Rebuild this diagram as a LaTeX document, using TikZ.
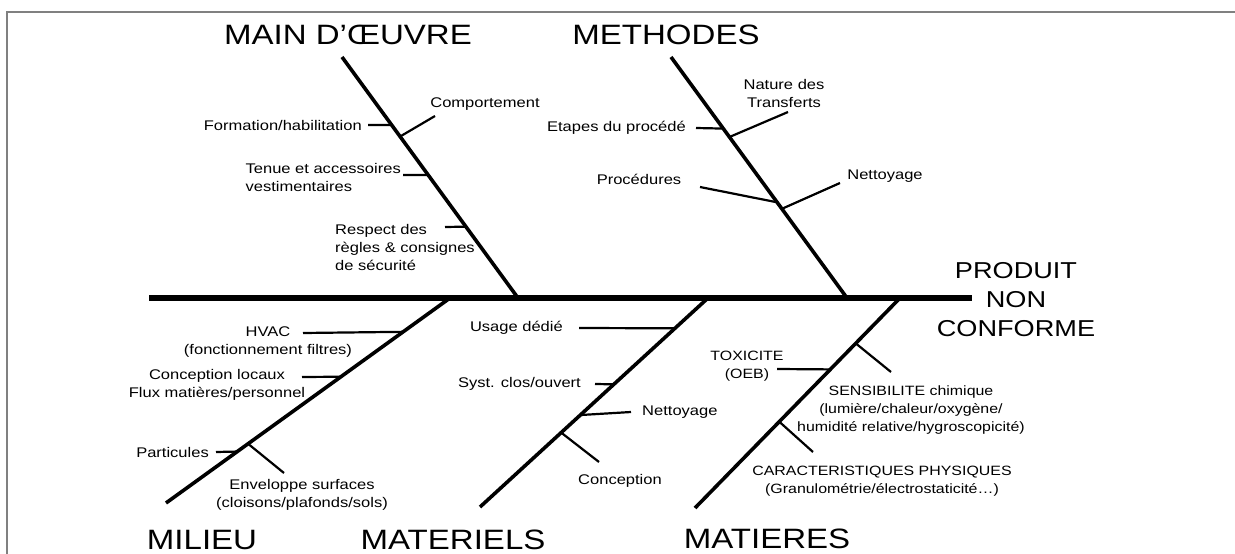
\documentclass[tikz,border=0pt]{standalone}
\usepackage{fontspec}
\setmainfont[FakeStretch=1.18]{Liberation Sans}
\usetikzlibrary{positioning}

\begin{document}
\begin{tikzpicture}[x=1pt, y=-1pt,
  spine/.style={line width=5.8pt},
  bone/.style={line width=3.6pt},
  twig/.style={line width=2.2pt},
  cause/.style={font=\fontsize{28}{30}\selectfont, inner sep=0pt},
  item/.style={font=\fontsize{14}{18}\selectfont, inner sep=0pt, align=center},
  small item/.style={item, font=\fontsize{13.5}{18}\selectfont}]

  \useasboundingbox (0,0) rectangle (1235,554);
  \draw[gray, line width=1.2pt] (7,554) -- (7,12) -- (1235,12);

  % Define nodes
  \node[cause] (mo) at (348,35) {MAIN D’ŒUVRE};
  \node[cause] (me) at (666,35) {METHODES};
  \node[cause] (mi) at (202,540) {MILIEU};
  \node[cause] (ma) at (453,540) {MATERIELS};
  \node[cause] (mt) at (767,539) {MATIERES};
  \node[cause, align=center, font=\fontsize{23}{29}\selectfont] (effect) at (1016,300) {PRODUIT\\NON\\CONFORME};

  \node[item, anchor=east] (form) at (362,125) {Formation/habilitation};
  \node[item] (comp) at (485,104) {Comportement};
  \node[item, anchor=east, align=left] (tenue) at (401,177) {Tenue et accessoires\\vestimentaires};
  \node[item, anchor=west, align=left] (resp) at (335,247) {Respect des\\règles \& consignes\\de sécurité};

  \node[item, anchor=east] (etap) at (686,128) {Etapes du procédé};
  \node[item] (natu) at (784,93) {Nature des\\Transferts};
  \node[item] (proc) at (639,179) {Procédures};
  \node[item] (nett1) at (885,176) {Nettoyage};

  \node[item] (hvac) at (268,342) {HVAC\\(fonctionnement filtres)};
  \node[item] (loc) at (217,385) {Conception locaux\\Flux matières/personnel};
  \node[item, anchor=east] (part) at (209,452) {Particules};
  \node[item] (env) at (302,495) {Enveloppe surfaces\\(cloisons/plafonds/sols)};

  \node[item, anchor=east] (usag) at (563,328) {Usage dédié};
  \node[item, anchor=east] (syst) at (581,384) {Syst. clos/ouvert};
  \node[item, anchor=west] (nett2) at (642,412) {Nettoyage};
  \node[item] (conc) at (620,481) {Conception};

  \node[small item] (toxi) at (747,366) {TOXICITE\\(OEB)};
  \node[small item] (sens) at (911,410) {SENSIBILITE chimique\\(lumière/chaleur/oxygène/\\humidité relative/hygroscopicité)};
  \node[small item] (cara) at (882,481) {CARACTERISTIQUES PHYSIQUES\\(Granulométrie/électrostaticité…)};

  % Bone ends
  \coordinate (tail) at (149,298);
  \coordinate (head) at (972,298);
  \coordinate (mo top) at (342,57);
  \coordinate (mo foot) at (518,298);
  \coordinate (me top) at (671,57);
  \coordinate (me foot) at (847,298);
  \coordinate (mi foot) at (166,503);
  \coordinate (mi top) at (450,298);
  \coordinate (ma foot) at (480,507);
  \coordinate (ma top) at (708,298);
  \coordinate (mt foot) at (695,508);
  \coordinate (mt top) at (900,298);

  % Free ends of the twigs
  \coordinate (form end) at (368,125);
  \coordinate (comp end) at (435,116);
  \coordinate (tenue end) at (403,175);
  \coordinate (resp end) at (445,227);
  \coordinate (etap end) at (696,128);
  \coordinate (natu end) at (788,112);
  \coordinate (proc end) at (700,187);
  \coordinate (nett1 end) at (840,183);
  \coordinate (hvac end) at (303,333);
  \coordinate (loc end) at (302,377);
  \coordinate (part end) at (216,452);
  \coordinate (env end) at (284,473);
  \coordinate (usag end) at (579,328);
  \coordinate (syst end) at (595,384);
  \coordinate (nett2 end) at (631,412);
  \coordinate (conc end) at (599,462);
  \coordinate (toxi end) at (777,369);
  \coordinate (sens end) at (891,372);
  \coordinate (cara end) at (813,452);

  % Connect the nodes
  \draw[spine] (tail) -- (head);
  \draw[bone] (mo top) -- (mo foot) coordinate[pos=.282] (mo1) coordinate[pos=.33] (mo2)
    coordinate[pos=.49] (mo3) coordinate[pos=.704] (mo4);
  \draw[bone] (me top) -- (me foot) coordinate[pos=.297] (me1) coordinate[pos=.332] (me2)
    coordinate[pos=.603] (me3) coordinate[pos=.63] (me4);
  \draw[bone] (mi foot) -- (mi top) coordinate[pos=.835] (mi1) coordinate[pos=.616] (mi2)
    coordinate[pos=.251] (mi3) coordinate[pos=.289] (mi4);
  \draw[bone] (ma foot) -- (ma top) coordinate[pos=.855] (ma1) coordinate[pos=.587] (ma2)
    coordinate[pos=.44] (ma3) coordinate[pos=.356] (ma4);
  \draw[bone] (mt foot) -- (mt top) coordinate[pos=.66] (mt1) coordinate[pos=.784] (mt2)
    coordinate[pos=.411] (mt3);

  \draw[twig] (mo1) -- (form end);
  \draw[twig] (mo2) -- (comp end);
  \draw[twig] (mo3) -- (tenue end);
  \draw[twig] (mo4) -- (resp end);
  \draw[twig] (me1) -- (etap end);
  \draw[twig] (me2) -- (natu end);
  \draw[twig] (me3) -- (proc end);
  \draw[twig] (me4) -- (nett1 end);
  \draw[twig] (mi1) -- (hvac end);
  \draw[twig] (mi2) -- (loc end);
  \draw[twig] (mi3) -- (part end);
  \draw[twig] (mi4) -- (env end);
  \draw[twig] (ma1) -- (usag end);
  \draw[twig] (ma2) -- (syst end);
  \draw[twig] (ma3) -- (nett2 end);
  \draw[twig] (ma4) -- (conc end);
  \draw[twig] (mt1) -- (toxi end);
  \draw[twig] (mt2) -- (sens end);
  \draw[twig] (mt3) -- (cara end);

\end{tikzpicture}
\end{document}
